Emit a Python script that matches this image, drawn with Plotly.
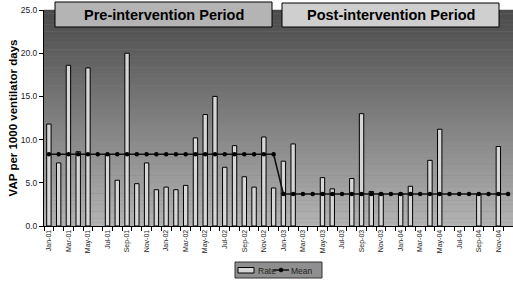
import plotly.graph_objects as go

months = ["Jan-01","Feb-01","Mar-01","Apr-01","May-01","Jun-01","Jul-01","Aug-01","Sep-01","Oct-01","Nov-01","Dec-01",
          "Jan-02","Feb-02","Mar-02","Apr-02","May-02","Jun-02","Jul-02","Aug-02","Sep-02","Oct-02","Nov-02","Dec-02",
          "Jan-03","Feb-03","Mar-03","Apr-03","May-03","Jun-03","Jul-03","Aug-03","Sep-03","Oct-03","Nov-03","Dec-03",
          "Jan-04","Feb-04","Mar-04","Apr-04","May-04","Jun-04","Jul-04","Aug-04","Sep-04","Oct-04","Nov-04","Dec-04"]

rate = [11.8, 7.3, 18.6, 8.6, 18.3, None, 8.2, 5.3, 20.0, 4.9, 7.3, 4.2,
        4.5, 4.2, 4.7, 10.2, 12.9, 15.0, 6.8, 9.3, 5.7, 4.5, 10.3, 4.4,
        7.5, 9.5, None, None, 5.6, 4.3, None, 5.5, 13.0, 4.0, 3.8, None,
        3.8, 4.6, None, 7.6, 11.2, None, None, None, 3.7, None, 9.2, None]

mean = [8.3, 8.3, 8.3, 8.3, 8.3, 8.3, 8.3, 8.3, 8.3, 8.3, 8.3, 8.3,
        8.3, 8.3, 8.3, 8.3, 8.3, 8.3, 8.3, 8.3, 8.3, 8.3, 8.3, 8.3,
        3.7, 3.7, 3.7, 3.7, 3.7, 3.7, 3.7, 3.7, 3.7, 3.7, 3.7, 3.7,
        3.7, 3.7, 3.7, 3.7, 3.7, 3.7, 3.7, 3.7, 3.7, 3.7, 3.7, 3.7]

period_labels = ["Pre-intervention Period", "Post-intervention Period"]
legend_labels = ["Rate", "Mean"]
y_ticks = [0, 5, 10, 15, 20, 25]

FONT = "Liberation Sans, Arial, sans-serif"
BAR_FILL = "#d6d6d6"
idx = list(range(len(months)))

# plot-area geometry in pixels (for decorations outside the data)
W, H = 513, 281
L, R, T, B = 44, 0, 10, 55
PW, PH = W - L - R, H - T - B


def px(x):
    return (x - L) / PW


def py(y):
    return (H - B - y) / PH


fig = go.Figure()
fig.add_trace(go.Bar(x=idx, y=rate, name=legend_labels[0], width=0.45,
                     marker=dict(color=BAR_FILL, line=dict(color="black", width=1))))
fig.add_trace(go.Scatter(x=idx, y=mean, name=legend_labels[1], mode="lines+markers",
                         line=dict(color="#111111", width=1.6),
                         marker=dict(color="black", size=4.5, symbol="circle")))

shapes = []
n = 60
top = (75, 75, 75)
bot = (178, 178, 178)
for i in range(n):
    t = i / (n - 1)
    c = tuple(int(round(top[k] + (bot[k] - top[k]) * t)) for k in range(3))
    shapes.append(dict(type="rect", xref="x domain", yref="y domain",
                       x0=0, x1=1, y0=1 - (i + 1) / n, y1=1 - i / n + 0.001,
                       fillcolor="rgb(%d,%d,%d)" % c, line=dict(width=0), layer="below"))

# header boxes
shapes.append(dict(type="rect", xref="paper", yref="paper", x0=px(55), x1=px(272), y0=py(27), y1=py(2),
                   fillcolor="#b4b4b4", line=dict(color="black", width=1), layer="above"))
shapes.append(dict(type="rect", xref="paper", yref="paper", x0=px(282), x1=px(499), y0=py(27), y1=py(3),
                   fillcolor="#cfcfcf", line=dict(color="black", width=1), layer="above"))

# legend (drawn as a box under the chart)
shapes.append(dict(type="rect", xref="paper", yref="paper", x0=px(235), x1=px(322), y0=py(278), y1=py(262),
                   fillcolor="#8f8f8f", line=dict(color="#333333", width=1), layer="above"))
shapes.append(dict(type="rect", xref="paper", yref="paper", x0=px(238), x1=px(254), y0=py(273), y1=py(267.5),
                   fillcolor=BAR_FILL, line=dict(color="black", width=1), layer="above"))
shapes.append(dict(type="line", xref="paper", yref="paper", x0=px(273), x1=px(289), y0=py(270), y1=py(270),
                   line=dict(color="#111111", width=1.5), layer="above"))
shapes.append(dict(type="circle", xref="paper", yref="paper", x0=px(279), x1=px(283), y0=py(272), y1=py(268),
                   fillcolor="black", line=dict(color="black", width=0.5), layer="above"))

annotations = [
    dict(text="<b>%s</b>" % period_labels[0], xref="paper", yref="paper", x=px(163.5), y=py(14.5),
         showarrow=False, font=dict(family=FONT, size=14.5, color="black"), xanchor="center", yanchor="middle"),
    dict(text="<b>%s</b>" % period_labels[1], xref="paper", yref="paper", x=px(390.5), y=py(15),
         showarrow=False, font=dict(family=FONT, size=14.5, color="black"), xanchor="center", yanchor="middle"),
    dict(text=legend_labels[0], xref="paper", yref="paper", x=px(256.5), y=py(270.5),
         showarrow=False, font=dict(family=FONT, size=8.5, color="#222222"), xanchor="left", yanchor="middle",
         borderpad=0),
    dict(text=legend_labels[1], xref="paper", yref="paper", x=px(290), y=py(270.5),
         showarrow=False, font=dict(family=FONT, size=8.5, color="#222222"), xanchor="left", yanchor="middle",
         borderpad=0),
]

fig.update_layout(
    width=W, height=H,
    margin=dict(l=L, r=R, t=T, b=B, autoexpand=False),
    paper_bgcolor="white", plot_bgcolor="#808080",
    font=dict(family=FONT, color="black"),
    shapes=shapes, annotations=annotations,
    showlegend=False,
    bargap=0.5,
)

fig.update_xaxes(range=[-0.5, len(months) - 0.5], automargin=False,
                 tickmode="array", tickvals=idx[::2], ticktext=months[::2],
                 tickangle=-90, tickfont=dict(family=FONT, size=7, color="#222222"),
                 ticks="", showline=True, linecolor="black", linewidth=1,
                 showgrid=False, zeroline=False,
                 minor=dict(ticks="outside", tickvals=[i - 0.5 for i in range(len(months) + 1)],
                            ticklen=4, tickcolor="black", tickwidth=1, showgrid=False))
fig.update_yaxes(range=[0, 25], automargin=False, tickmode="array", tickvals=y_ticks, tickformat=".1f",
                 ticks="outside", ticklen=4, tickcolor="black",
                 tickfont=dict(family=FONT, size=8.5, color="#222222"),
                 showline=True, linecolor="black", linewidth=1,
                 showgrid=False, zeroline=False,
                 title=dict(text="<b>VAP per 1000 ventilator days</b>",
                            font=dict(family=FONT, size=11.5, color="black"), standoff=0))

fig.write_html("out.html", config={"displayModeBar": False},
               post_script="document.body.style.margin='0';document.body.style.overflow='hidden';")
